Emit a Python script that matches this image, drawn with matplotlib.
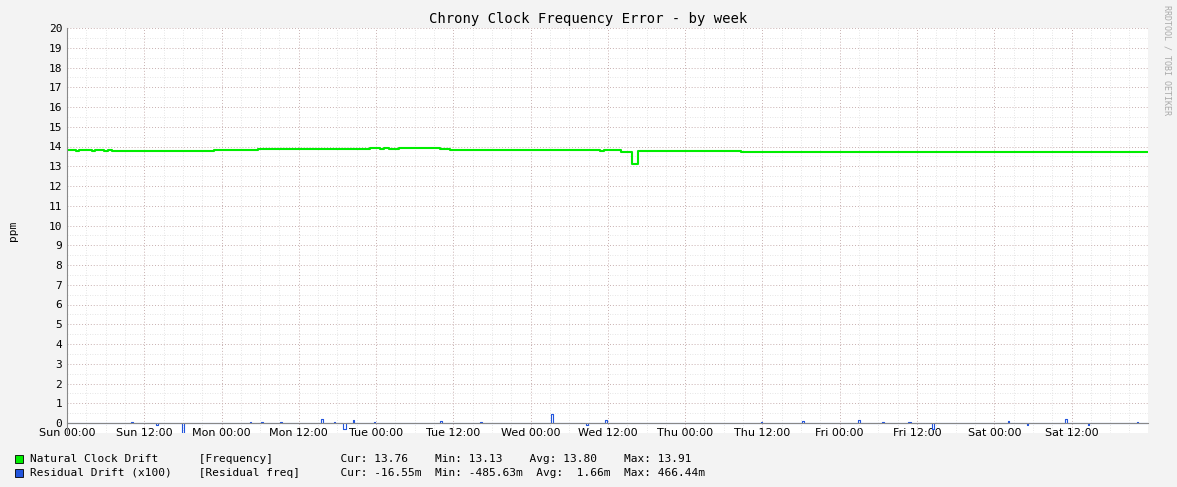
import matplotlib
matplotlib.use("Agg")
import matplotlib.pyplot as plt
import numpy as np

# Natural clock drift (frequency, ppm) step breakpoints: hour -> value
freq_h = [0, 1.4, 1.8, 3.9, 4.3, 5.7, 6.3, 7.0, 15.5, 15.9, 18.3, 18.8, 20.2, 20.6, 22.8, 29.6, 47.0, 48.6, 49.2, 50.0, 51.6, 58.0, 58.7, 59.5, 78.1, 78.7, 82.8, 83.4, 86.1, 87.8, 88.6, 104.7, 157.9, 158.3, 168]
freq_v = [13.80, 13.75, 13.80, 13.75, 13.80, 13.75, 13.80, 13.75, 13.78, 13.75, 13.78, 13.75, 13.78, 13.75, 13.80, 13.85, 13.90, 13.86, 13.90, 13.86, 13.91, 13.86, 13.89, 13.84, 13.82, 13.80, 13.76, 13.80, 13.74, 13.13, 13.76, 13.72, 13.74, 13.72, 13.72]

# Residual drift (x100) spikes: hour -> value
res_h = [0, 9.9, 10.2, 13.8, 14.1, 17.9, 18.1, 28.4, 28.6, 30.2, 30.4, 33.1, 33.4, 39.4, 39.7, 41.4, 41.6, 42.9, 43.3, 44.4, 44.6, 47.6, 47.9, 58.0, 58.2, 64.2, 64.5, 75.1, 75.4, 80.6, 80.9, 83.6, 83.8, 88.3, 88.6, 107.7, 107.9, 114.2, 114.4, 122.8, 123.1, 126.6, 126.8, 130.6, 131.0, 134.3, 134.6, 146.1, 146.3, 149.1, 149.3, 155.0, 155.3, 158.5, 158.7, 166.2, 166.4, 168]
res_v = [0, 0.05, 0, -0.08, 0, -0.49, 0, 0.04, 0, 0.05, 0, 0.04, 0, 0.2, 0, 0.07, 0, -0.3, 0, 0.15, 0, 0.05, 0, 0.08, 0, 0.05, 0, 0.47, 0, -0.12, 0, 0.15, 0, 0, 0, 0.05, 0, 0.08, 0, 0.15, 0, 0.05, 0, 0.04, 0, -0.3, 0, 0.08, 0, -0.08, 0, 0.2, 0, -0.1, 0, 0.05, 0, 0]

xtick_labels = ["Sun 00:00", "Sun 12:00", "Mon 00:00", "Mon 12:00", "Tue 00:00", "Tue 12:00",
                "Wed 00:00", "Wed 12:00", "Thu 00:00", "Thu 12:00", "Fri 00:00", "Fri 12:00",
                "Sat 00:00", "Sat 12:00"]

mono = "DejaVu Sans Mono"
fig = plt.figure(figsize=(11.77, 4.87), dpi=100, facecolor="#f3f3f3")
W, H = 1177, 487
ymin = -0.5
y0px, y20px = 423, 28
ppu = (y0px - y20px) / 20
bottom_px = y0px + (-ymin) * ppu
ax = fig.add_axes([67/W, 1 - bottom_px/H, (1148-67)/W, (bottom_px - y20px)/H])
ax.set_facecolor("white")

ax.step(freq_h, freq_v, where="post", color="#00ee00", lw=1.5)
ax.step(res_h, res_v, where="post", color="#2255dd", lw=0.8)

ax.set_yticks(range(0, 21))
ax.set_yticks(np.arange(0, 20, 0.5), minor=True)
ax.set_xticks(np.arange(0, 14)*12)
ax.set_xticks(np.arange(0, 168, 3), minor=True)
ax.set_xticklabels(xtick_labels)
xmax = (1148-68)/77.2*12
ax.set_xlim(0, xmax)
ax.set_ylim(ymin, 20)
ax.grid(which="major", color="#c8b0b0", ls=(0, (1, 2)), lw=0.7)
ax.grid(which="minor", color="#dddddd", ls=(0, (1, 2)), lw=0.6)
ax.tick_params(which="both", length=0, labelsize=8)
for lab in ax.get_xticklabels() + ax.get_yticklabels():
    lab.set_fontfamily(mono)
for s in ["top", "right"]:
    ax.spines[s].set_visible(False)
ax.spines["left"].set_color("#888888")
ax.spines["bottom"].set_color("#888888")
ax.spines["bottom"].set_position(("data", 0))
ax.set_ylabel("ppm", fontsize=8, family=mono, labelpad=22)

fig.text(588/W, 1-19/H, "Chrony Clock Frequency Error - by week", ha="center", va="center", fontsize=10, family=mono)
fig.text(1167/W, 1-60/H, "RRDTOOL / TOBI OETIKER", rotation=270, ha="center", va="center", fontsize=6, color="#aaaaaa", family=mono)

rows = [("#00ee00", "Natural Clock Drift      [Frequency]          Cur: 13.76    Min: 13.13    Avg: 13.80    Max: 13.91", 459),
        ("#2255dd", "Residual Drift (x100)    [Residual freq]      Cur: -16.55m  Min: -485.63m  Avg:  1.66m  Max: 466.44m", 473)]
for c, t, y in rows:
    fig.patches.append(plt.Rectangle((15/W, 1-(y+4)/H), 8/W, 8/H, transform=fig.transFigure, facecolor=c, edgecolor="black", lw=0.6))
    fig.text(30/W, 1-y/H, t, ha="left", va="center", fontsize=8, family=mono)

fig.savefig("out.png", dpi=100, facecolor=fig.get_facecolor())
